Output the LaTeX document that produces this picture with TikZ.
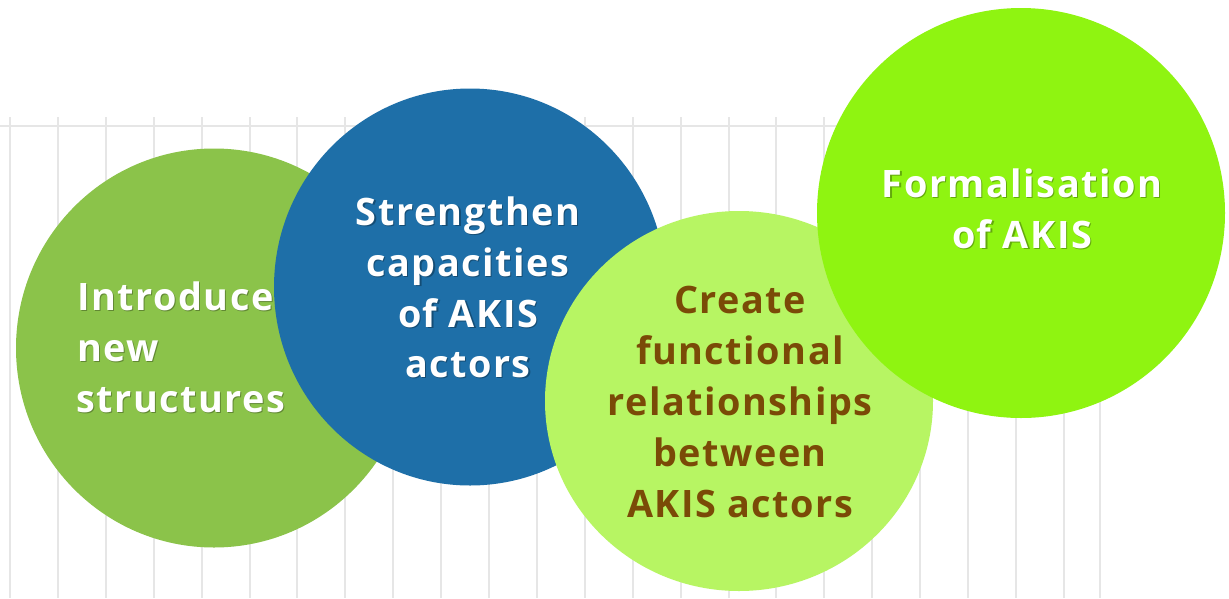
\documentclass[tikz,border=0pt]{standalone}
\usepackage{fontspec}
\setmainfont{Open Sans}
\newfontfamily\lblfont{Open Sans}[LetterSpace=4]
\usetikzlibrary{shapes.geometric}
\definecolor{cGreen}{HTML}{8BC34A}
\definecolor{cBlue}{HTML}{1E6FA8}
\definecolor{cLight}{HTML}{B7F563}
\definecolor{cBright}{HTML}{8FF411}
\definecolor{cBrown}{HTML}{7A4A07}
\definecolor{cGrid}{HTML}{E6E6E6}
\tikzset{
  gridline/.style={draw=cGrid, line width=2pt},
  blob/.style={ellipse, draw=none, inner sep=0pt, outer sep=0pt},
  lbl/.style={inner sep=0pt, font=\lblfont\bfseries\fontsize{37.8}{45}\selectfont},
  lblwhite/.style={lbl, text=white},
  lblshadow/.style={lbl, text=black, text opacity=0.3},
  lblbrown/.style={lbl, text=cBrown},
}
\newcommand\shtext[4]{%
  \node[lblshadow, anchor=#3, xshift=1.2pt, yshift=-1.6pt] (#1s) at (#2) {#4};
  \node[lblwhite, anchor=#3] (#1) at (#2) {#4};
}
\begin{document}
\begin{tikzpicture}[x=1pt,y=-1pt]
\useasboundingbox[fill=white] (0,0) rectangle (1229,598);
% background grid
\foreach \i in {0,...,22} {
  \draw[gridline] (10+47.9*\i,117) -- (10+47.9*\i,598);
}
\draw[gridline] (1100,117) -- (1100,598);
\draw[gridline] (0,126) -- (1100,126);
% circles
\node[blob, fill=cGreen, minimum width=396pt, minimum height=399pt] (c1) at (214,348) {};
\node[blob, fill=cBlue, minimum width=392pt, minimum height=397pt] (c2) at (470,287) {};
\node[blob, fill=cLight, minimum width=388pt, minimum height=380pt] (c3) at (739,401) {};
\node[blob, fill=cBright, minimum width=408pt, minimum height=410pt] (c4) at (1021,213) {};
% texts circle 1
\shtext{t11}{77,310}{base west}{Introduce}
\shtext{t12}{77,361}{base west}{new}
\shtext{t13}{76,412}{base west}{structures}
% circle 2
\shtext{t21}{468,225}{base}{Strengthen}
\shtext{t22}{468,276}{base}{capacities}
\shtext{t23}{468,327}{base}{of AKIS}
\shtext{t24}{468,377}{base}{actors}
% circle 3
\node[lblbrown, anchor=base] (t31) at (740,313) {Create};
\node[lblbrown, anchor=base] (t32) at (740,364) {functional};
\node[lblbrown, anchor=base] (t33) at (740,415) {relationships};
\node[lblbrown, anchor=base] (t34) at (740,466) {between};
\node[lblbrown, anchor=base] (t35) at (740,517) {AKIS actors};
% circle 4
\shtext{t41}{1022,197}{base}{Formalisation}
\shtext{t42}{1022,248}{base}{of AKIS}
\end{tikzpicture}
\end{document}
